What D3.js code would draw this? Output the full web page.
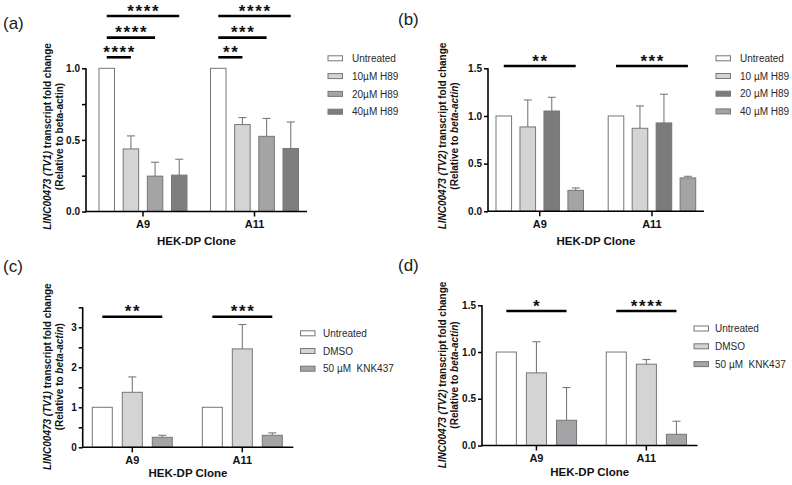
<!DOCTYPE html>
<html><head><meta charset="utf-8">
<script src="https://cdn.jsdelivr.net/npm/d3@7/dist/d3.min.js"></script>
<style>
html,body{margin:0;padding:0;background:#fff;}
svg{display:block;font-family:"Liberation Sans",Arial,sans-serif;}
</style></head>
<body>
<svg id="chart" width="792" height="485"></svg>
<script>
// ---------- DATA ----------
const groups = ["A9", "A11"];

// (a) TV1, H89
const seriesA = ["Untreated", "10\u00b5M H89", "20\u00b5M H89", "40\u00b5M H89"];
const meanA = [[1.00, 1.00], [0.437, 0.607], [0.247, 0.525], [0.254, 0.440]];
const errA  = [[0, 0], [0.091, 0.049], [0.097, 0.125], [0.111, 0.185]];
const sigA  = [["A9", 0, 3, 1.365, "****"], ["A9", 0, 2, 1.214, "****"], ["A9", 0, 1, 1.077, "****"],
               ["A11", 0, 3, 1.365, "****"], ["A11", 0, 2, 1.214, "***"], ["A11", 0, 1, 1.077, "**"]];

// (b) TV2, H89
const seriesB = ["Untreated", "10 \u00b5M H89", "20 \u00b5M H89", "40 \u00b5M H89"];
const meanB = [[1.00, 1.00], [0.885, 0.871], [1.052, 0.927], [0.220, 0.350]];
const errB  = [[0, 0], [0.283, 0.234], [0.144, 0.301], [0.025, 0.017]];
const sigB  = [["A9", 0, 3, 1.524, "**"], ["A11", 0, 3, 1.524, "***"]];

// (c) TV1, KNK437
const seriesC = ["Untreated", "DMSO", "50 \u00b5M\u00a0 KNK437"];
const meanC = [[1.00, 1.00], [1.375, 2.46], [0.25, 0.30]];
const errC  = [[0, 0], [0.385, 0.61], [0.05, 0.06]];
const sigC  = [["A9", 0, 2, 3.265, "**"], ["A11", 0, 2, 3.265, "***"]];

// (d) TV2, KNK437
const seriesD = ["Untreated", "DMSO", "50 \u00b5M\u00a0 KNK437"];
const meanD = [[1.00, 1.00], [0.777, 0.87], [0.27, 0.12]];
const errD  = [[0, 0], [0.333, 0.05], [0.35, 0.14]];
const sigD  = [["A9", 0, 2, 1.439, "*"], ["A11", 0, 2, 1.439, "****"]];

const ticksH = [0, 0.5, 1.0, 1.5];
const ticksA = [0, 0.5, 1.0];
const minorA = [0.25, 0.75];
const ticksC = [0, 1, 2, 3];
const minorC = [0.5, 1.5, 2.5, 3.5];

// ---------- STYLE / LAYOUT ----------
const fillsA = ["#ffffff", "#d4d4d4", "#a4a4a7", "#7e7e7e"];
const fillsB = ["#ffffff", "#d4d4d4", "#7b7b7b", "#a4a4a7"];
const fillsC = ["#ffffff", "#d4d4d4", "#a4a4a7"];

const panels = [
  { label: "(a)", lab: [3, 28.5], series: seriesA, mean: meanA, err: errA, sig: sigA, fills: fillsA,
    band: [99, 298.5], pi: 0.211, qi: 0.359, axisX: 86, xEnd: 307,
    ydom: [0, 1], yMax: 1, yBase: 211.5, yTop: 68.3, ticks: ticksA, minor: minorA, fmt: ".1f",
    xTitleY: 245, yT: [47.5, 59, 136.5], tv: "TV1", italBeta: false,
    leg: { x: 328, y: 58.3, dy: 17.8, tx: 352 } },
  { label: "(b)", lab: [398, 25], series: seriesB, mean: meanB, err: errB, sig: sigB, fills: fillsB,
    band: [496, 695.7], pi: 0.22, qi: 0.35, axisX: 488, xEnd: 704,
    ydom: [0, 1.5], yMax: 1.5, yBase: 211.3, yTop: 68.3, ticks: ticksH, minor: [], fmt: ".1f",
    xTitleY: 245, yT: [442.5, 454, 136], tv: "TV2", italBeta: true,
    leg: { x: 716, y: 58.3, dy: 17.7, tx: 740 } },
  { label: "(c)", lab: [3, 272], series: seriesC, mean: meanC, err: errC, sig: sigC, fills: fillsC,
    band: [92.3, 282.3], pi: 0.273, qi: 0.3333, axisX: 82.7, xEnd: 293.3,
    ydom: [0, 3.5], yMax: 3.5, yBase: 447.3, yTop: 307.3, ticks: ticksC, minor: minorC, fmt: "d",
    xTitleY: 477, yT: [47.5, 59, 376.7], tv: "TV1", italBeta: true,
    leg: { x: 300.5, y: 333.3, dy: 17.7, tx: 323 } },
  { label: "(d)", lab: [398, 270.5], series: seriesD, mean: meanD, err: errD, sig: sigD, fills: fillsC,
    band: [496.3, 686.5], pi: 0.27, qi: 0.3333, axisX: 482, xEnd: 697.5,
    ydom: [0, 1.5], yMax: 1.5, yBase: 445.5, yTop: 305.3, ticks: ticksH, minor: [], fmt: ".1f",
    xTitleY: 476, yT: [442.5, 454, 375], tv: "TV2", italBeta: true,
    leg: { x: 694, y: 328.5, dy: 17.8, tx: 715 } }
];

const svg = d3.select("#chart");
svg.append("rect").attr("width", 792).attr("height", 485).attr("fill", "#fff");

panels.forEach(p => {
  const g = svg.append("g");
  const idx = d3.range(p.series.length);
  const x0 = d3.scaleBand().domain(groups).range(p.band).paddingInner(p.pi).paddingOuter(0);
  const x1 = d3.scaleBand().domain(idx).range([0, x0.bandwidth()]).paddingInner(p.qi).paddingOuter(0);
  const y = d3.scaleLinear().domain(p.ydom).range([p.yBase, p.yTop]);

  // panel label
  g.append("text").attr("x", p.lab[0]).attr("y", p.lab[1]).attr("font-size", 17)
    .attr("fill", "#1a1a1a").text(p.label);

  // bars + error bars
  const rows = [];
  idx.forEach(s => groups.forEach((gr, gi) => rows.push({ s, gr, v: p.mean[s][gi], e: p.err[s][gi] })));
  const bw = x1.bandwidth();
  g.selectAll("rect.bar").data(rows).join("rect").attr("class", "bar")
    .attr("x", d => x0(d.gr) + x1(d.s))
    .attr("y", d => y(d.v))
    .attr("width", bw)
    .attr("height", d => y(0) - y(d.v))
    .attr("fill", d => p.fills[d.s])
    .attr("stroke", "#767676").attr("stroke-width", 1);
  const eb = rows.filter(d => d.e > 0);
  g.selectAll("line.ev").data(eb).join("line").attr("class", "ev")
    .attr("x1", d => x0(d.gr) + x1(d.s) + bw / 2).attr("x2", d => x0(d.gr) + x1(d.s) + bw / 2)
    .attr("y1", d => y(d.v)).attr("y2", d => y(d.v + d.e))
    .attr("stroke", "#7a7a7a").attr("stroke-width", 1.1);
  g.selectAll("line.ec").data(eb).join("line").attr("class", "ec")
    .attr("x1", d => x0(d.gr) + x1(d.s) + bw / 2 - 4).attr("x2", d => x0(d.gr) + x1(d.s) + bw / 2 + 4)
    .attr("y1", d => y(d.v + d.e)).attr("y2", d => y(d.v + d.e))
    .attr("stroke", "#7a7a7a").attr("stroke-width", 1.1);

  // y axis
  const ya = g.append("g").attr("transform", `translate(${p.axisX},0)`)
    .call(d3.axisLeft(y).tickValues(p.ticks).tickFormat(d3.format(p.fmt)).tickSize(4).tickPadding(2));
  ya.select(".domain").remove();
  ya.selectAll("line").attr("stroke", "#000").attr("stroke-width", 1.5);
  ya.selectAll("text").attr("font-size", 10).attr("font-weight", "bold").attr("fill", "#111")
    .attr("font-family", "Liberation Sans, Arial, sans-serif");
  if (p.minor.length) {
    const ym = g.append("g").attr("transform", `translate(${p.axisX},0)`)
      .call(d3.axisLeft(y).tickValues(p.minor).tickFormat("").tickSize(4));
    ym.select(".domain").remove();
    ym.selectAll("line").attr("stroke", "#000").attr("stroke-width", 1.5);
  }
  g.append("line").attr("x1", p.axisX).attr("x2", p.axisX)
    .attr("y1", y(0) + 0.75).attr("y2", y(p.yMax)).attr("stroke", "#000").attr("stroke-width", 1.6);

  // x axis
  const xa = g.append("g").attr("transform", `translate(0,${p.yBase})`)
    .call(d3.axisBottom(x0).tickSize(5).tickPadding(4));
  xa.select(".domain").remove();
  xa.selectAll("line").attr("stroke", "#000").attr("stroke-width", 1.5);
  xa.selectAll("text").attr("font-size", 11).attr("font-weight", "bold").attr("fill", "#111")
    .attr("font-family", "Liberation Sans, Arial, sans-serif");
  g.append("line").attr("x1", p.axisX).attr("x2", p.xEnd)
    .attr("y1", p.yBase).attr("y2", p.yBase).attr("stroke", "#000").attr("stroke-width", 1.6);

  // axis titles
  g.append("text").attr("x", (p.axisX + p.xEnd) / 2).attr("y", p.xTitleY)
    .attr("text-anchor", "middle").attr("font-size", 11.5).attr("font-weight", "bold").attr("fill", "#111")
    .text("HEK-DP Clone");
  const t1 = g.append("text").attr("transform", `translate(${p.yT[0] + 3.5},${p.yT[2]}) rotate(-90)`)
    .attr("text-anchor", "middle").attr("font-size", 10).attr("font-weight", "bold").attr("fill", "#111");
  t1.append("tspan").attr("font-style", "italic").text(`LINC00473 (${p.tv})`);
  t1.append("tspan").text(" transcript fold change");
  const t2 = g.append("text").attr("transform", `translate(${p.yT[1] + 3.5},${p.yT[2]}) rotate(-90)`)
    .attr("text-anchor", "middle").attr("font-size", 10).attr("font-weight", "bold").attr("fill", "#111");
  if (p.italBeta) {
    t2.append("tspan").text("(Relative to ");
    t2.append("tspan").attr("font-style", "italic").text("beta-actin");
    t2.append("tspan").text(")");
  } else {
    t2.text("(Relative to beta-actin)");
  }

  // significance
  const sg = p.sig.map(d => ({ gr: d[0], a: d[1], b: d[2], lv: d[3], t: d[4] }));
  const cx = (gr, s) => x0(gr) + x1(s) + bw / 2;
  g.selectAll("line.sig").data(sg).join("line").attr("class", "sig")
    .attr("x1", d => cx(d.gr, d.a)).attr("x2", d => cx(d.gr, d.b))
    .attr("y1", d => y(d.lv)).attr("y2", d => y(d.lv))
    .attr("stroke", "#000").attr("stroke-width", 2.6);
  g.selectAll("text.sig").data(sg).join("text").attr("class", "sig")
    .attr("x", d => (cx(d.gr, d.a) + cx(d.gr, d.b)) / 2 + 0.8)
    .attr("y", d => y(d.lv) + 0.5)
    .attr("text-anchor", "middle").attr("font-size", 17).attr("font-weight", "bold")
    .attr("letter-spacing", 1.6).attr("fill", "#111").text(d => d.t);

  // legend
  const lg = g.append("g");
  p.series.forEach((s, i) => {
    lg.append("rect").attr("x", p.leg.x).attr("y", p.leg.y + i * p.leg.dy - 2.5)
      .attr("width", 14.5).attr("height", 5).attr("fill", p.fills[i])
      .attr("stroke", "#767676").attr("stroke-width", 1);
    lg.append("text").attr("x", p.leg.tx).attr("y", p.leg.y + i * p.leg.dy + 3.6)
      .attr("font-size", 10).attr("fill", "#2a2a2a").style("white-space", "pre").text(s);
  });
});
</script>
</body></html>
